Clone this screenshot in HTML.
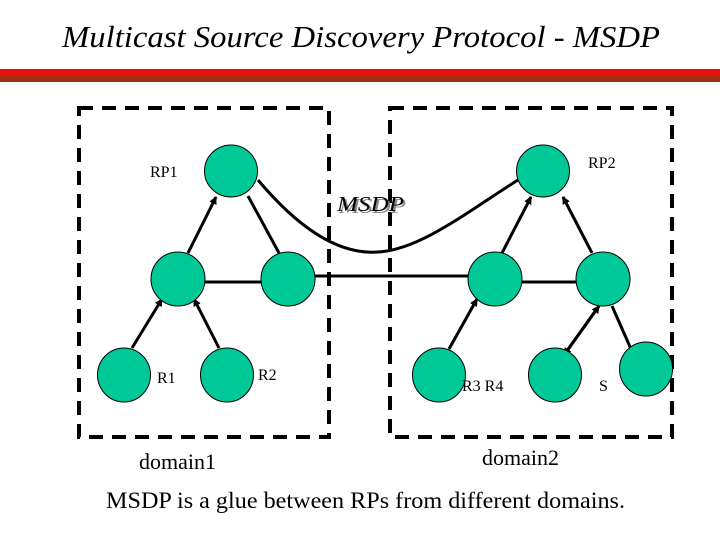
<!DOCTYPE html>
<html><head><style>
body{margin:0;width:720px;height:540px;background:#fff;overflow:hidden}
</style></head><body>
<svg width="720" height="540" xmlns="http://www.w3.org/2000/svg" font-family="Liberation Serif, serif">
<defs><marker id="a" markerWidth="8" markerHeight="8" refX="7" refY="4" orient="auto" markerUnits="userSpaceOnUse"><path d="M0,0 L8,4 L0,8 z" fill="#000"/></marker></defs>
<text x="62" y="47" font-size="31" font-style="italic" textLength="598" lengthAdjust="spacingAndGlyphs">Multicast Source Discovery Protocol - MSDP</text>
<rect x="0" y="69" width="720" height="7" fill="#e8100c"/>
<rect x="0" y="76" width="720" height="6" fill="#a0300c"/>
<g fill="none" stroke="#000" stroke-width="4" stroke-dasharray="14,9">
<rect x="79" y="108" width="250" height="329"/>
<rect x="390" y="108" width="282" height="329"/>
</g>
<g stroke="#000" stroke-width="3" fill="none">
<path d="M258,180 C300,230 340,255 378,252 C420,250 470,210 518,180"/>
<line x1="205" y1="282" x2="261" y2="282"/>
<line x1="315" y1="276" x2="468" y2="276"/>
<line x1="521" y1="282" x2="576" y2="282"/>
<line x1="188" y1="253" x2="216" y2="197" marker-end="url(#a)"/>
<line x1="248" y1="196" x2="279" y2="253"/>
<line x1="132" y1="348" x2="162" y2="299" marker-end="url(#a)"/>
<line x1="219" y1="348" x2="194" y2="299" marker-end="url(#a)"/>
<line x1="502" y1="253" x2="531" y2="197" marker-end="url(#a)"/>
<line x1="592" y1="253" x2="563" y2="197" marker-end="url(#a)"/>
<line x1="449" y1="349" x2="477" y2="299" marker-end="url(#a)"/>
<line x1="564" y1="355" x2="599" y2="306" marker-end="url(#a)"/>
<line x1="599" y1="306" x2="564" y2="355" marker-end="url(#a)"/>
<line x1="612" y1="306" x2="631" y2="349"/>
</g>
<g fill="#00c896" stroke="#000" stroke-width="1">
<ellipse cx="231" cy="171" rx="26.5" ry="26"/>
<ellipse cx="543" cy="171" rx="26.5" ry="26"/>
<ellipse cx="178" cy="279" rx="27" ry="27"/>
<ellipse cx="288" cy="279" rx="27" ry="27"/>
<ellipse cx="495" cy="279" rx="27" ry="27"/>
<ellipse cx="603" cy="279" rx="27" ry="27"/>
<ellipse cx="124" cy="375" rx="26.5" ry="27"/>
<ellipse cx="227" cy="375" rx="26.5" ry="27"/>
<ellipse cx="439" cy="375" rx="26.5" ry="27"/>
<ellipse cx="555" cy="375" rx="26.5" ry="27"/>
<ellipse cx="646" cy="369" rx="26.5" ry="27"/>
</g>
<g font-size="16">
<text x="150" y="177">RP1</text>
<text x="588" y="168">RP2</text>
<text x="157" y="383">R1</text>
<text x="258" y="380">R2</text>
<text x="462" y="391">R3  R4</text>
<text x="599" y="391">S</text>
</g>
<text x="339" y="213" font-size="21" font-style="italic" fill="#888" textLength="67" lengthAdjust="spacingAndGlyphs">MSDP</text>
<text x="337" y="211" font-size="21" font-style="italic" textLength="67" lengthAdjust="spacingAndGlyphs">MSDP</text>
<text x="139" y="469" font-size="22">domain1</text>
<text x="482" y="465" font-size="22">domain2</text>
<text x="106" y="508" font-size="23" textLength="519" lengthAdjust="spacingAndGlyphs">MSDP is a glue between RPs from different domains.</text>
</svg>
</body></html>
